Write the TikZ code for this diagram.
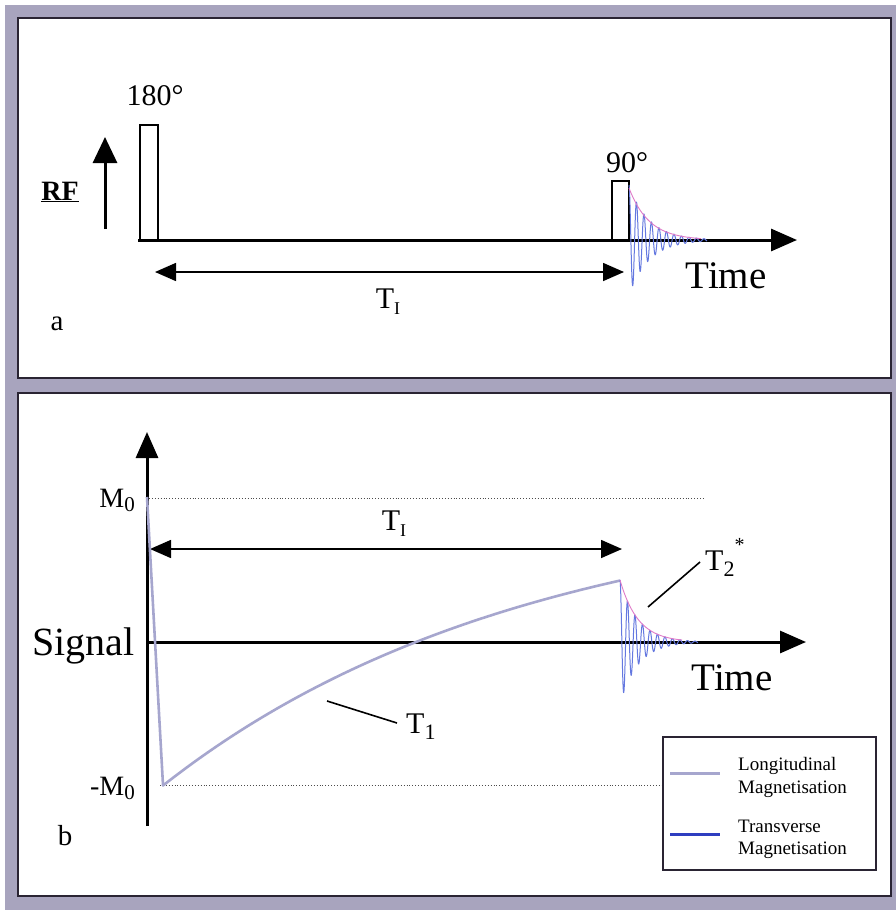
\documentclass[tikz,border=0pt]{standalone}
\usepackage{fontspec}
\setmainfont{Liberation Serif}
\usetikzlibrary{arrows.meta}
\definecolor{framec}{HTML}{A8A4BE}
\definecolor{edgec}{HTML}{2A2433}
\definecolor{longc}{HTML}{A6A6CE}
\definecolor{transc}{HTML}{6478E0}
\definecolor{legblue}{HTML}{2E3EC0}
\definecolor{envc}{HTML}{E07AC8}
\newcommand{\fs}[1]{\fontsize{#1}{#1}\selectfont}
\begin{document}
\begin{tikzpicture}[x=1pt,y=-1pt,
  panel/.style={draw=edgec,line width=1.5pt,fill=white},
  axis/.style={line width=3pt,-{Triangle[width=22pt,length=26pt]}},
  span/.style={line width=1.6pt,{Triangle[width=18pt,length=21pt]}-{Triangle[width=18pt,length=21pt]}},
  pulse/.style={draw,line width=1.4pt},
  big/.style={inner sep=0pt,font=\fs{39}},
  mid/.style={inner sep=0pt,font=\fs{30}},
  small/.style={inner sep=0pt,font=\fs{29}},
  leg/.style={inner sep=0pt,font=\fs{19},anchor=base west},
  longline/.style={longc,line width=2.6pt,line join=round},
  trans/.style={transc,line width=1pt},
  env/.style={envc,line width=0.9pt},
  pointer/.style={line width=1.6pt},
  dots/.style={dotted,line width=0.9pt,black!70}]
\fill[white] (0,0) rectangle (896,910);
\useasboundingbox (0,0) rectangle (896,910);
\fill[framec] (5,5) rectangle (896,910);
\draw[panel] (18,18) rectangle (891,378);
\draw[panel] (18,393) rectangle (891,896);

% ---------- panel a ----------
\draw[pulse] (140,125) rectangle (158,240);
\node[mid,anchor=base] (deg180) at (155,105) {180°};
\coordinate (a0) at (138,240);
\coordinate (a1) at (797,240);
\draw[axis] (a0) -- (a1);
\coordinate (rf0) at (105,229);
\coordinate (rf1) at (105,137);
\draw[line width=3pt,-{Triangle[width=24pt,length=26pt]}] (rf0) -- (rf1);
\node[inner sep=0pt,anchor=base,font=\fs{28}\bfseries] (rf) at (60,200) {\underline{RF}};
\draw[pulse] (612,181) rectangle (629,240);
\node[mid,anchor=base] (deg90) at (627,172) {90°};
\draw[trans] plot[domain=0:78,samples=520] ({629+\x},{240-55*exp(-\x/20)*cos(48*\x)});
\draw[env] plot[domain=0:72,samples=80] ({629+\x},{240-52*exp(-\x/20)});
\node[big,anchor=base] (timea) at (726,288) {Time};
\coordinate (ta0) at (155,272);
\coordinate (ta1) at (624,272);
\draw[span] (ta0) -- (ta1);
\node[mid,anchor=base] (tia) at (388,308) {T\raisebox{-0.22em}{\fs{18}I}};
\node[small,anchor=base] (la) at (57,330) {a};

% ---------- panel b ----------
\coordinate (v0) at (147,826);
\coordinate (v1) at (147,432);
\draw[axis] (v0) -- (v1);
\coordinate (h0) at (147,642);
\coordinate (h1) at (806,642);
\draw[axis] (h0) -- (h1);
\coordinate (m0l) at (149,498);
\coordinate (m0r) at (705,498);
\draw[dots] (m0l) -- (m0r);
\coordinate (mm0l) at (160,785);
\coordinate (mm0r) at (663,785);
\draw[dots] (mm0l) -- (mm0r);
\node[inner sep=0pt,font=\fs{28},anchor=base east] (m0) at (135,507) {M\raisebox{-0.15em}{\fs{21}0}};
\node[inner sep=0pt,font=\fs{28},anchor=base east] (mm0) at (135,795) {-M\raisebox{-0.15em}{\fs{21}0}};
\node[big,anchor=base east,font=\fs{40}] (signal) at (135,655) {Signal};
\coordinate (tb0) at (150,549);
\coordinate (tb1) at (622,549);
\draw[span] (tb0) -- (tb1);
\node[mid,anchor=base] (tib) at (394,530) {T\raisebox{-0.22em}{\fs{18}I}};
\draw[longline] (147,497) -- (163,785) -- plot[domain=0:457,samples=120] ({163+\x},{642-143.5*(1-2*exp(-\x/365))});
\draw[trans] plot[domain=0:78,samples=520] ({620+\x},{642-62*exp(-\x/18)*cos(48*\x)});
\draw[env] plot[domain=0:62,samples=80] ({620+\x},{642-62*exp(-\x/18)});
\node[mid,anchor=base west] (t2) at (705,570) {T\raisebox{-0.22em}{\fs{22}2}\raisebox{0.62em}{\fs{20}*}};
\coordinate (t2p0) at (648,607);
\coordinate (t2p1) at (700,562);
\draw[pointer] (t2p0) -- (t2p1);
\node[mid,anchor=base west] (t1) at (406,733) {T\raisebox{-0.22em}{\fs{22}1}};
\coordinate (t1p0) at (327,701);
\coordinate (t1p1) at (397,723);
\draw[pointer] (t1p0) -- (t1p1);
\node[big,anchor=base] (timeb) at (732,690) {Time};
\node[small,anchor=base] (lb) at (65,845) {b};

% ---------- legend ----------
\draw[draw=edgec,line width=1.4pt,fill=white] (663,737) rectangle (876,870);
\coordinate (lg0) at (670,773);
\coordinate (lg1) at (720,773);
\draw[longc,line width=3pt] (lg0) -- (lg1);
\coordinate (lb0) at (670,834);
\coordinate (lb1) at (720,834);
\draw[legblue,line width=3pt] (lb0) -- (lb1);
\node[leg] (leg1) at (738,770) {Longitudinal};
\node[leg] (leg2) at (738,793) {Magnetisation};
\node[leg] (leg3) at (738,832) {Transverse};
\node[leg] (leg4) at (738,854) {Magnetisation};
\end{tikzpicture}
\end{document}
